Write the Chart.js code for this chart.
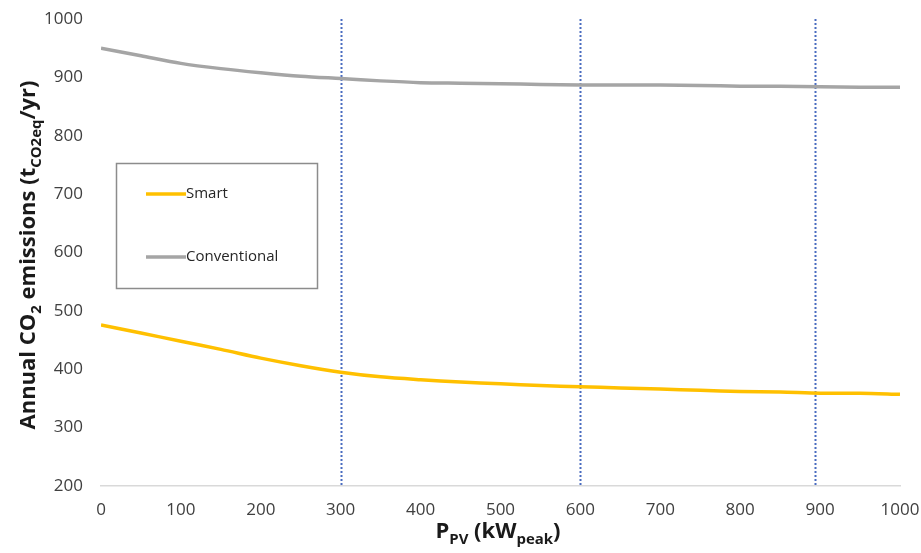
<!DOCTYPE html>
<html>
<head>
<meta charset="utf-8">
<script src="https://cdn.jsdelivr.net/npm/chart.js@4.4.0/dist/chart.umd.min.js"></script>
<style>
  html, body { margin: 0; padding: 0; background: #fff; }
  #wrap { width: 921px; height: 553px; position: relative; }
</style>
</head>
<body>
<div id="wrap"><canvas id="chart" width="921" height="553"></canvas></div>
<script>
/* ── Data ─────────────────────────────────────────────────── */

const pvPower = [0, 50, 100, 150, 200, 250, 300, 350, 400, 450, 500,
                 550, 600, 650, 700, 750, 800, 850, 900, 950, 1000];

const smartEmissions = [476, 462, 448, 434, 419, 406, 395, 387, 382, 378, 375,
                        372, 370, 368, 366, 364, 362, 361, 359, 359, 357];

const conventionalEmissions = [950, 937, 924, 915, 908, 902, 898, 894, 891, 890, 889,
                               888, 887, 887, 887, 886, 885, 885, 884, 883, 883];

// vertical dotted markers
const markerPositions = [300, 600, 893];

const xTicks = [0, 100, 200, 300, 400, 500, 600, 700, 800, 900, 1000];
const yTicks = [200, 300, 400, 500, 600, 700, 800, 900, 1000];

/* ── Styles ───────────────────────────────────────────────── */

const FONT = '"Open Sans", "Liberation Sans", sans-serif';
const TEXT_COLOR = '#404040';
const SMART_COLOR = '#ffc000';
const CONV_COLOR = '#a5a5a5';
const MARKER_COLOR = '#4a6cc0';

const toPoints = (ys) => pvPower.map((x, i) => ({ x, y: ys[i] }));

/* ── Plugins ──────────────────────────────────────────────── */

// draw text pieces with subscripts, starting at x (left aligned)
function drawRich(ctx, parts, x, y, size) {
  let cx = x;
  parts.forEach(([txt, sub]) => {
    const s = sub ? size * 0.68 : size;
    ctx.font = `bold ${s}px ${FONT}`;
    ctx.fillText(txt, cx, sub ? y + size * 0.28 : y);
    cx += ctx.measureText(txt).width;
  });
  return cx - x;
}

function richWidth(ctx, parts, size) {
  let w = 0;
  parts.forEach(([txt, sub]) => {
    ctx.font = `bold ${sub ? size * 0.68 : size}px ${FONT}`;
    w += ctx.measureText(txt).width;
  });
  return w;
}

const markerLines = {
  id: 'markerLines',
  beforeDatasetsDraw(chart) {
    const { ctx, chartArea, scales } = chart;
    ctx.save();
    ctx.strokeStyle = MARKER_COLOR;
    ctx.lineWidth = 2;
    ctx.setLineDash([2, 2]);
    markerPositions.forEach((v) => {
      const px = Math.round(scales.x.getPixelForValue(v)) + 0.5;
      ctx.beginPath();
      ctx.moveTo(px, chartArea.top);
      ctx.lineTo(px, chartArea.bottom);
      ctx.stroke();
    });
    ctx.restore();
  },
};

const axisTitles = {
  id: 'axisTitles',
  afterDraw(chart) {
    const { ctx } = chart;
    ctx.save();
    ctx.fillStyle = '#1a1a1a';
    ctx.textBaseline = 'alphabetic';

    // y title (rotated)
    const yParts = [['Annual CO', false], ['2', true], [' emissions (t', false],
                    ['CO2eq', true], ['/yr)', false]];
    const ySize = 22;
    const yw = richWidth(ctx, yParts, ySize);
    ctx.translate(35, 255);
    ctx.rotate(-Math.PI / 2);
    drawRich(ctx, yParts, -yw / 2, 0, ySize);
    ctx.restore();

    // x title
    ctx.save();
    ctx.fillStyle = '#1a1a1a';
    const xParts = [['P', false], ['PV', true], [' (kW', false], ['peak', true], [')', false]];
    const xSize = 22;
    const xw = richWidth(ctx, xParts, xSize);
    drawRich(ctx, xParts, 498 - xw / 2, 538, xSize);
    ctx.restore();
  },
};

const boxLegend = {
  id: 'boxLegend',
  afterDraw(chart) {
    const { ctx } = chart;
    ctx.save();
    ctx.strokeStyle = '#8c8c8c';
    ctx.lineWidth = 1.5;
    ctx.strokeRect(116.5, 163.5, 201, 125);
    const rows = [
      { ds: chart.data.datasets[0], y: 194 },
      { ds: chart.data.datasets[1], y: 257 },
    ];
    ctx.font = `15px ${FONT}`;
    ctx.textBaseline = 'middle';
    rows.forEach(({ ds, y }) => {
      ctx.strokeStyle = ds.borderColor;
      ctx.lineWidth = 3.5;
      ctx.beginPath();
      ctx.moveTo(146, y);
      ctx.lineTo(186, y);
      ctx.stroke();
      ctx.fillStyle = '#262626';
      ctx.fillText(ds.label, 186, y);
    });
    ctx.restore();
  },
};

/* ── Chart ────────────────────────────────────────────────── */

new Chart(document.getElementById('chart'), {
  type: 'line',
  data: {
    datasets: [
      {
        label: 'Smart',
        data: toPoints(smartEmissions),
        borderColor: SMART_COLOR,
        borderWidth: 3.5,
        pointRadius: 0,
        tension: 0.3,
      },
      {
        label: 'Conventional',
        data: toPoints(conventionalEmissions),
        borderColor: CONV_COLOR,
        borderWidth: 3.5,
        pointRadius: 0,
        tension: 0.3,
      },
    ],
  },
  options: {
    responsive: false,
    animation: false,
    layout: { padding: { top: 19, right: 21, left: 0, bottom: 0 } },
    plugins: {
      legend: { display: false },
      tooltip: { enabled: false },
    },
    scales: {
      x: {
        type: 'linear',
        min: 0,
        max: 1000,
        afterBuildTicks: (s) => { s.ticks = xTicks.map((v) => ({ value: v })); },
        afterFit: (s) => {
          s.height = 67;
          s.paddingLeft = 0;
          s.paddingRight = 0;
        },
        grid: { display: false, drawTicks: false },
        border: { display: true, color: '#d9d9d9', width: 1.5 },
        ticks: {
          color: TEXT_COLOR,
          font: { family: FONT, size: 17 },
          padding: 14,
          maxRotation: 0,
          callback: (v) => String(v),
        },
      },
      y: {
        min: 200,
        max: 1000,
        afterBuildTicks: (s) => { s.ticks = yTicks.map((v) => ({ value: v })); },
        afterFit: (s) => {
          s.width = 101;
          s.paddingTop = 0;
          s.paddingBottom = 0;
        },
        grid: { display: false, drawTicks: false },
        border: { display: false },
        ticks: {
          color: TEXT_COLOR,
          font: { family: FONT, size: 17 },
          padding: 18,
          callback: (v) => String(v),
        },
      },
    },
  },
  plugins: [markerLines, axisTitles, boxLegend],
});
</script>
</body>
</html>
